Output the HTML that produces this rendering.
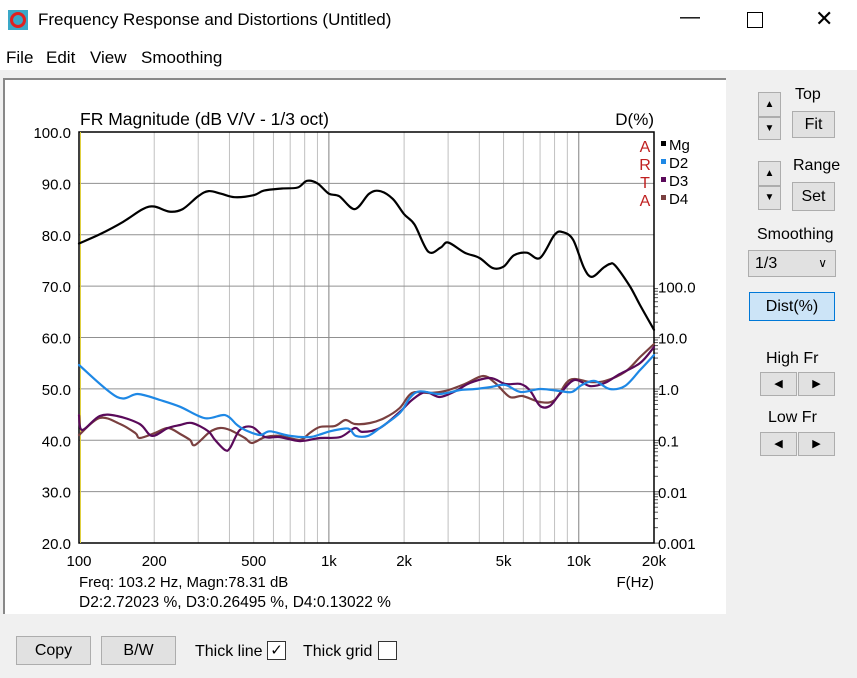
<!DOCTYPE html>
<html><head><meta charset="utf-8"><style>
body{margin:0;width:857px;height:678px;background:#f0f0f0;font-family:"Liberation Sans",sans-serif;position:relative;overflow:hidden}
.abs{position:absolute}
.btn{position:absolute;background:#e1e1e1;border:1px solid #adadad;box-sizing:border-box;text-align:center;font-size:16px;color:#000}
.lbl{position:absolute;font-size:16px;color:#000}
</style></head><body>
<div class="abs" style="left:0;top:0;width:857px;height:40px;background:#fff"></div>
<div class="abs" style="left:8px;top:10px;width:20px;height:20px;background:#3aa8c8"><div style="position:absolute;left:2px;top:2px;width:10px;height:10px;border:3px solid #e02020;border-radius:50%"></div></div>
<div class="lbl" style="left:38px;top:10px;font-size:17px">Frequency Response and Distortions (Untitled)</div>
<div class="lbl" style="left:680px;top:6px;font-size:20px">&#8212;</div>
<div class="abs" style="left:747px;top:12px;width:14px;height:14px;border:1px solid #000"></div>
<div class="lbl" style="left:815px;top:6px;font-size:22px">&#10005;</div>
<div class="abs" style="left:0;top:40px;width:857px;height:30px;background:#fff"></div>
<div class="lbl" style="left:6px;top:48px;font-size:17px">File</div>
<div class="lbl" style="left:46px;top:48px;font-size:17px">Edit</div>
<div class="lbl" style="left:90px;top:48px;font-size:17px">View</div>
<div class="lbl" style="left:141px;top:48px;font-size:17px">Smoothing</div>
<div class="abs" style="left:3px;top:78px;width:723px;height:536px;background:#fff;border-top:2px solid #888;border-left:2px solid #888;box-sizing:border-box"></div>
<svg class="abs" style="left:0;top:0" width="857" height="678" id="chart"></svg>

<div class="btn" style="left:758px;top:92px;width:23px;height:25px;font-size:10px;line-height:24px">&#9650;</div>
<div class="btn" style="left:758px;top:117px;width:23px;height:23px;font-size:10px;line-height:22px">&#9660;</div>
<div class="lbl" style="left:795px;top:86px">Top</div>
<div class="btn" style="left:792px;top:111px;width:43px;height:27px;line-height:25px">Fit</div>
<div class="btn" style="left:758px;top:161px;width:23px;height:25px;font-size:10px;line-height:24px">&#9650;</div>
<div class="btn" style="left:758px;top:186px;width:23px;height:24px;font-size:10px;line-height:22px">&#9660;</div>
<div class="lbl" style="left:793px;top:157px">Range</div>
<div class="btn" style="left:792px;top:182px;width:43px;height:29px;line-height:27px">Set</div>
<div class="lbl" style="left:757px;top:226px">Smoothing</div>
<div class="btn" style="left:748px;top:250px;width:88px;height:27px;line-height:25px;text-align:left;padding-left:6px">1/3<span style="position:absolute;right:8px;top:0;font-size:12px">&#8744;</span></div>
<div class="btn" style="left:749px;top:292px;width:86px;height:29px;line-height:27px;background:#cce4f7;border-color:#0078d7">Dist(%)</div>
<div class="lbl" style="left:766px;top:350px">High Fr</div>
<div class="btn" style="left:760px;top:372px;width:37px;height:24px;font-size:11px;line-height:22px">&#9664;</div>
<div class="btn" style="left:798px;top:372px;width:37px;height:24px;font-size:11px;line-height:22px">&#9654;</div>
<div class="lbl" style="left:768px;top:409px">Low Fr</div>
<div class="btn" style="left:760px;top:432px;width:37px;height:24px;font-size:11px;line-height:22px">&#9664;</div>
<div class="btn" style="left:798px;top:432px;width:37px;height:24px;font-size:11px;line-height:22px">&#9654;</div>

<div class="btn" style="left:16px;top:636px;width:75px;height:29px;line-height:27px">Copy</div>
<div class="btn" style="left:101px;top:636px;width:75px;height:29px;line-height:27px">B/W</div>
<div class="lbl" style="left:195px;top:643px">Thick line</div>
<div class="abs" style="left:267px;top:641px;width:19px;height:19px;border:1px solid #333;background:#fff;box-sizing:border-box;font-size:15px;line-height:17px;text-align:center">&#10003;</div>
<div class="lbl" style="left:303px;top:643px">Thick grid</div>
<div class="abs" style="left:378px;top:641px;width:19px;height:19px;border:1px solid #333;background:#fff;box-sizing:border-box"></div>

<script>
const mgFreq=[100,120,150,180,200,230,260,300,330,370,420,500,550,650,750,817,900,1000,1100,1270,1450,1600,1800,2000,2200,2500,2800,3000,3500,4000,4530,5000,5500,6200,7000,8000,8640,9500,10500,11300,12500,13300,14000,16000,17500,20000];
const mgDb=[78.3,80,82.5,85,85.5,84.5,85,87.5,88.5,88,87.3,87.7,88.6,89,89.2,90.5,90,88,87.5,85,88,88.5,87,84,82,76.7,77.5,78.5,76.5,75.5,73.5,73.8,76,76.5,75.5,80,80.5,79,73.5,71.8,73.5,74.3,74,70,66.5,61.5];
const d2Freq=[100,142,172,211,254,319,384,429,461,530,581,700,838,920,1010,1164,1220,1283,1433,1600,1920,2110,2310,2780,3360,3850,4420,5080,5850,7000,8400,9380,10300,11600,13300,15300,17600,20000];
const d2Pct=[2.93,0.70,0.80,0.61,0.45,0.27,0.31,0.20,0.16,0.127,0.15,0.122,0.116,0.13,0.15,0.17,0.16,0.122,0.122,0.174,0.34,0.67,0.90,0.80,0.956,1.0,1.09,1.2,0.874,1.0,0.914,0.874,1.2,1.43,1.0,1.14,2.34,4.58];
const d3Freq=[100,103,121,142,175,196,227,254,283,328,350,384,402,440,493,556,636,766,920,1110,1270,1360,1600,1920,2150,2430,2780,3220,3670,4420,5080,5850,6400,7000,7660,8400,9600,11100,12700,14600,17600,20000];
const d3Pct=[0.31,0.159,0.298,0.298,0.208,0.122,0.174,0.199,0.218,0.152,0.102,0.065,0.071,0.159,0.182,0.116,0.116,0.097,0.111,0.116,0.174,0.146,0.174,0.357,0.611,0.87,0.70,0.914,1.31,1.64,1.25,1.25,0.914,0.467,0.467,0.80,1.5,1.14,1.31,1.96,3.2,6.56];
const d4Freq=[100,121,146,168,175,201,227,254,278,291,334,367,402,461,493,556,636,766,838,920,1059,1164,1270,1460,1670,1920,2150,2540,2920,3500,4140,4630,5300,5960,7000,8010,9200,11100,12700,15300,17600,20000];
const d4Pct=[0.127,0.272,0.208,0.139,0.111,0.139,0.174,0.133,0.102,0.081,0.146,0.174,0.159,0.111,0.089,0.116,0.122,0.102,0.139,0.182,0.191,0.249,0.208,0.218,0.272,0.427,0.836,0.836,0.914,1.25,1.79,1.31,0.70,0.73,0.558,0.611,1.5,1.37,1.43,2.14,4.19,7.5];
const dbTicks=[100,90,80,70,60,50,40,30,20];
const pctTicks=[100,10,1,0.1,0.01,0.001];
const pctLabels=["100.0","10.0","1.0","0.1","0.01","0.001"];
const freqTicks=[100,200,500,1000,2000,5000,10000,20000];
const freqLabels=["100","200","500","1k","2k","5k","10k","20k"];
const legendNames=["Mg","D2","D3","D4"];
const legendColors=["#000","#1e88e5","#5a0a5a","#7a4040"];

const L=79,R=654,T=132,B=543;
const NS="http://www.w3.org/2000/svg";
const svg=document.getElementById('chart');
const xs=f=>L+(R-L)*Math.log10(f/100)/Math.log10(200);
const yDb=d=>T+(100-d)*(B-T)/80;
const yPct=p=>389-(B-T)/8*Math.log10(p);
function mk(tag,attrs,parent){const e=document.createElementNS(NS,tag);for(const k in attrs)e.setAttribute(k,attrs[k]);(parent||svg).appendChild(e);return e;}
function txt(s,x,y,anchor,size,fill){const t=mk('text',{x:x,y:y,'text-anchor':anchor,'font-size':size||16,fill:fill||'#000','font-family':'Liberation Sans, sans-serif'});t.textContent=s;return t;}
const grid=mk('g',{});


for(let dec=100;dec<=10000;dec*=10){for(let m=1;m<10;m++){const f=dec*m;if(f>20000)break;const x=xs(f);const l=mk('line',{x1:x,x2:x,y1:T,y2:B,stroke:m==1?'#808080':'#c0c0c0','stroke-width':1},grid);}}
dbTicks.forEach(d=>{const y=yDb(d);const l=mk('line',{x1:L,x2:R,y1:y,y2:y,stroke:'#909090','stroke-width':1},grid);
const t=txt(d.toFixed(1),71,y+6,'end',15);});
for(let dec=0.001;dec<100;dec*=10){for(let m=1;m<10;m++){const y=yPct(dec*m);const l=mk('line',{x1:R,x2:R+(m==1?6:4),y1:y,y2:y,stroke:'#555','stroke-width':1},grid);}}
pctTicks.forEach((p,i)=>{const t=txt(pctLabels[i],658,yPct(p)+6,'start',15);});
freqTicks.forEach((f,i)=>{const t=txt(freqLabels[i],xs(f),566,'middle',15);});
const fr=mk('rect',{x:L,y:T,width:R-L,height:B-T,fill:'none',stroke:'#000','stroke-width':1.5});

const cur=mk('line',{x1:L+1.5,x2:L+1.5,y1:T,y2:B,stroke:'#e0d040','stroke-width':1});

function series(fa,va,yf,color,name,w){
  const P=fa.map((f,i)=>[xs(f),yf(va[i])]);
  let d='M'+P[0][0].toFixed(1)+' '+P[0][1].toFixed(1);
  for(let i=0;i<P.length-1;i++){const p0=P[Math.max(0,i-1)],p1=P[i],p2=P[i+1],p3=P[Math.min(P.length-1,i+2)];
    const c1=[p1[0]+(p2[0]-p0[0])/6,p1[1]+(p2[1]-p0[1])/6],c2=[p2[0]-(p3[0]-p1[0])/6,p2[1]-(p3[1]-p1[1])/6];
    d+=' C'+c1[0].toFixed(1)+' '+c1[1].toFixed(1)+' '+c2[0].toFixed(1)+' '+c2[1].toFixed(1)+' '+p2[0].toFixed(1)+' '+p2[1].toFixed(1);}
  const p=mk('path',{d:d,fill:'none',stroke:color,'stroke-width':w,'stroke-linejoin':'round','stroke-linecap':'round'});
  
  }
series(d4Freq,d4Pct,yPct,legendColors[3],'d4-line',2.2);
series(d3Freq,d3Pct,yPct,legendColors[2],'d3-line',2.2);
series(d2Freq,d2Pct,yPct,legendColors[1],'d2-line',2.2);
series(mgFreq,mgDb,yDb,legendColors[0],'mg-line',2.2);
let t=txt('FR Magnitude (dB V/V - 1/3 oct)',80,125,'start',17.5);
t=txt('D(%)',654,125,'end',17);
t=txt('F(Hz)',654,587,'end',15);
t=txt('Freq: 103.2 Hz, Magn:78.31 dB',79,587,'start',15);
t=txt('D2:2.72023 %, D3:0.26495 %, D4:0.13022 %',79,607,'start',15.5);
['A','R','T','A'].forEach((c,i)=>{const a=txt(c,645,152+i*18,'middle',16,'#c02020');});
legendNames.forEach((n,i)=>{const y=146+i*18;const r=mk('rect',{x:661,y:y-5,width:5,height:5,fill:legendColors[i]});
const a=txt(n,669,y+4,'start',15);});
</script>
</body></html>
